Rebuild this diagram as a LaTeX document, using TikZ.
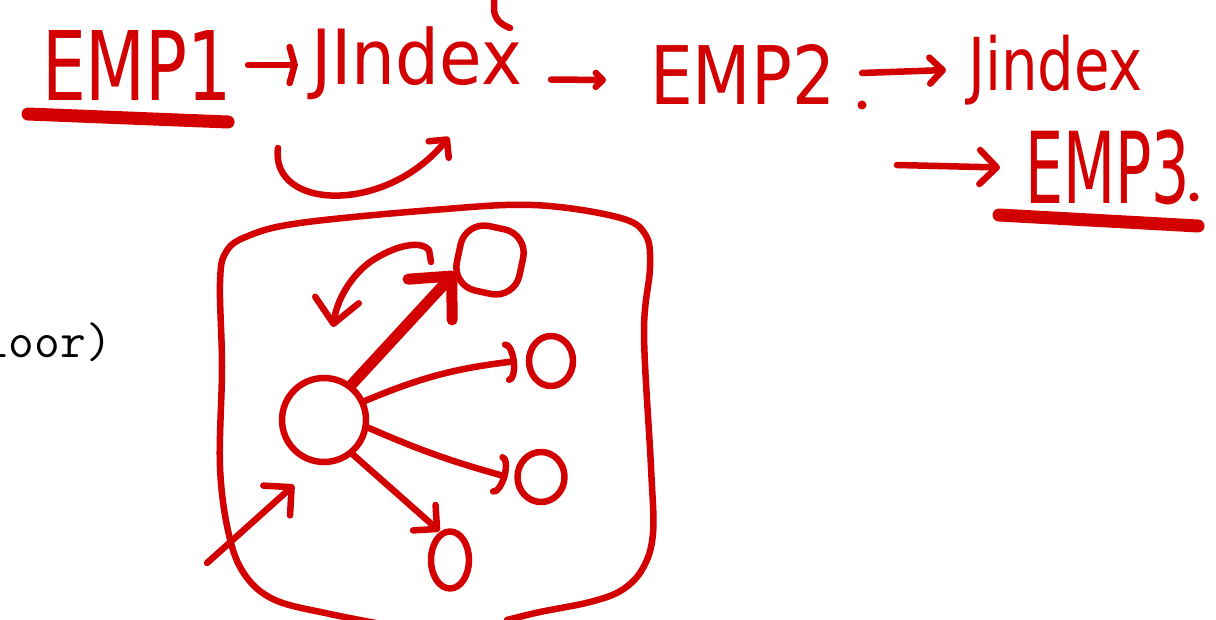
\documentclass[tikz,border=0pt]{standalone}
\usepackage{fontspec}
\setmainfont{DejaVu Sans}
\usetikzlibrary{arrows.meta,shapes.geometric,calc}
\definecolor{ink}{RGB}{210,0,0}
\tikzset{
  pen/.style={draw=ink, line width=6.5pt, line cap=round, line join=round},
  heavy/.style={pen, line width=11pt},
  brush/.style={pen, line width=13pt},
  word/.style={text=ink, inner sep=0pt, outer sep=0pt, anchor=north west},
  blob/.style={pen, ellipse, inner sep=0pt, outer sep=4pt},
  tipS/.style={-{Straight Barb[length=#1pt, width=2*#1pt, line cap=round, line join=round]}},
  tipA/.style={-{Arc Barb[length=10pt, width=42pt, line cap=round]}},
}
% hand lettering squeezed into a given box (width, height in pt)
\newcommand{\hand}[3]{\resizebox*{#1pt}{#2pt}{#3}}
\begin{document}
\begin{tikzpicture}[x=1pt, y=-1pt]
\useasboundingbox (0,0) rectangle (1216,620);
\clip (0,0) rectangle (1216,620);

% --- code line in the background ---
\node[anchor=base west, inner sep=0pt, font=\ttfamily\fontsize{50}{50}\selectfont] (code) at (-17,358) {loor)};

% --- chain written across the top ---
\node[word] (emp1) at (42,30)   {\hand{190}{70}{EMP1}};
\node[word] (jx1)  at (311,27)  {\hand{211}{73}{JIndex}};
\node[word] (emp2) at (650,45)  {\hand{185}{60}{EMP2}};
\node[word] (jx2)  at (968,35)  {\hand{175}{70}{Jindex}};
\node[word] (emp3) at (1025,130){\hand{165}{75}{EMP3}};

\draw[pen, -{Straight Barb[length=5pt, width=36pt, line cap=round]}]
  ([xshift=16pt]emp1.east) -- ([xshift=-13pt]jx1.west |- emp1.east);
\draw[pen, tipS=7] ([shift={(29,16)}]jx1.east) -- ([shift={(-44,5)}]emp2.west);
\draw[pen, tipS=13] ([shift={(27,-2)}]emp2.east) -- ([xshift=-22pt]jx2.west);
\coordinate (wrap) at (897,165);
\draw[pen, tipS=17] (wrap) -- ([xshift=-25pt]emp3.west);

\fill[ink] (862,105) circle (4.5);
\fill[ink] (1194,197) circle (4.5);

\draw[brush] ([shift={(-14,14)}]emp1.south west) -- ([shift={(-4,22)}]emp1.south east);
\draw[brush] ([shift={(-26,10)}]emp3.south west) -- ([shift={(8,21)}]emp3.south east);

% small bracket stroke at the top edge
\draw[pen] (494,-6) -- (494,10) .. controls (495,20) and (502,25) .. (510,28);

% loop-back arrow under the first index
\coordinate (u0) at (278,148);
\coordinate (u1) at (449,137);
\draw[pen, tipS=13] (u0) .. controls (270,210) and (385,215) .. (u1);

% --- enclosing outline ---
\draw[pen] plot[smooth, tension=0.6] coordinates {
  (392,626) (330,614) (275,600) (245,575) (229,535) (220,467) (222,367)
  (220,283) (226,252) (248,236) (300,223) (433,210) (533,205) (617,217)
  (645,234) (650,267) (644,333) (651,467) (653,533) (643,568) (622,590)
  (590,602) (540,612) (507,620)};

% --- graph inside ---
\node[pen, circle, minimum size=84pt, inner sep=0pt] (hub) at (324,420) {};
\node[pen, rectangle, rounded corners=24pt, minimum width=64pt, minimum height=66pt, rotate=-12] (top) at (490,260) {};
\node[blob, minimum width=44pt, minimum height=50pt] (n2) at (551,361) {};
\node[blob, minimum width=47pt, minimum height=50pt] (n3) at (541,477) {};
\node[blob, minimum width=38pt, minimum height=57pt] (n4) at (450,560) {};

\draw[heavy, -{Straight Barb[length=32pt, width=60pt, line cap=round, line join=round]}]
  (hub.52) -- (top.west |- 0,272);
\coordinate (ret) at (431,262);
\draw[pen, -{Straight Barb[length=24pt, width=44pt, line cap=round, line join=round]}]
  (ret) -- (429,250) .. controls (421,240) and (395,245) .. (370,262)
  .. controls (350,277) and (337,300) .. (333,327);

\draw[pen, tipA] (hub.25) to[bend left=8] ([xshift=-8pt]n2.west);
\draw[pen, tipA] (hub.-10) to[bend right=4] ([xshift=-6pt]n3.west);
\draw[pen, tipS=17] (hub.-50) -- (n4.110);

\coordinate (src) at (207,563);
\coordinate (dst) at (294,485);
\draw[pen, tipS=20] (src) -- (dst);
\end{tikzpicture}
\end{document}
